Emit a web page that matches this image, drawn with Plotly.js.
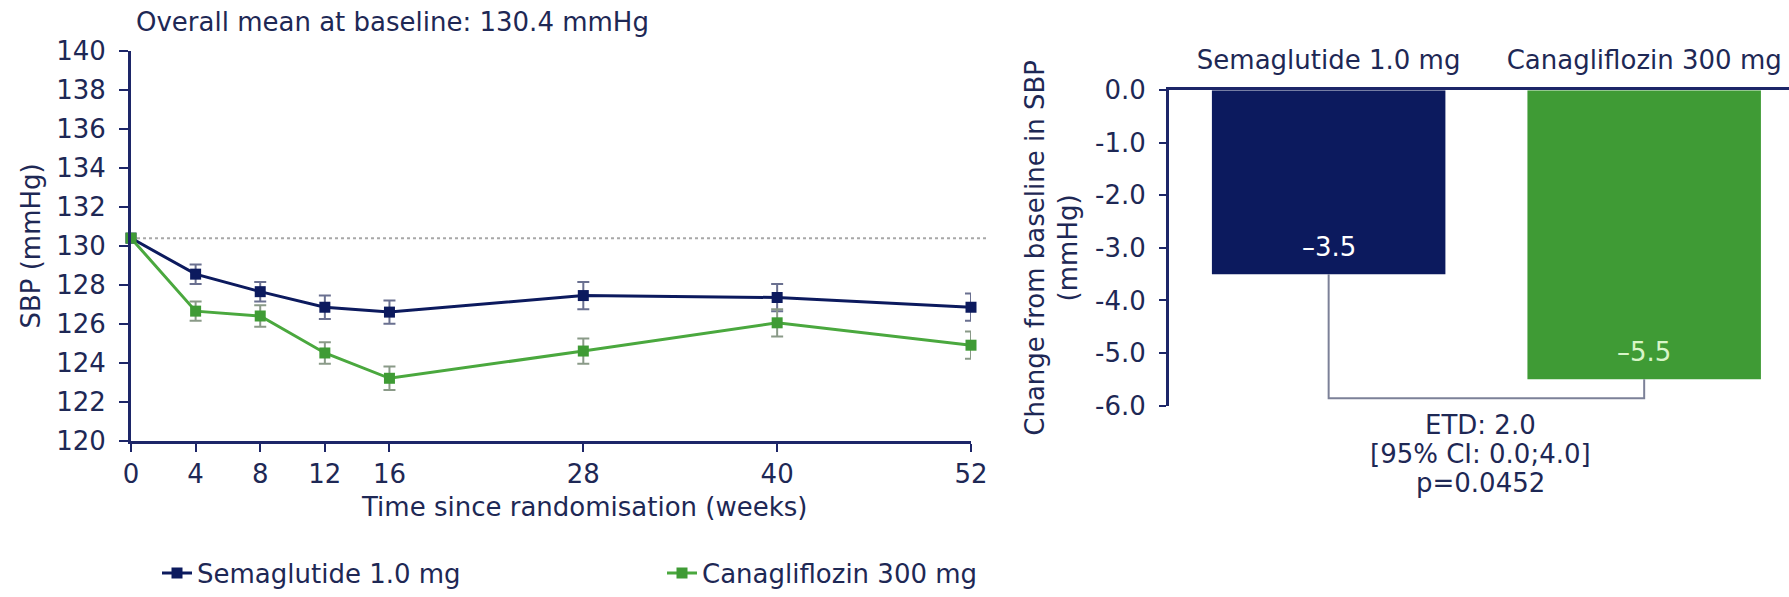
<!DOCTYPE html>
<html>
<head>
<meta charset="utf-8">
<script src="https://cdn.plot.ly/plotly-3.0.1.min.js"></script>
<style>html,body{margin:0;padding:0;background:#fff;}#chart{width:1789px;height:597px;}</style>
</head>
<body>
<div id="chart"></div>
<script>
// ---- Data ----
const weeks = [0, 4, 8, 12, 16, 28, 40, 52];
const weekTickLabels = ['0', '4', '8', '12', '16', '28', '40', '52'];
const semaSBP = [130.4, 128.55, 127.65, 126.85, 126.6, 127.45, 127.35, 126.85];
const semaErr = [0, 0.5, 0.5, 0.6, 0.6, 0.7, 0.7, 0.7];
const canaSBP = [130.4, 126.65, 126.4, 124.5, 123.2, 124.6, 126.05, 124.9];
const canaErr = [0, 0.5, 0.55, 0.55, 0.6, 0.65, 0.7, 0.7];
const baselineMean = 130.4;
const sbpTicks = [120, 122, 124, 126, 128, 130, 132, 134, 136, 138, 140];

const treatments = ['Semaglutide 1.0 mg', 'Canagliflozin 300 mg'];
const changeFromBaseline = [-3.5, -5.5];
const changeTicks = [0, -1, -2, -3, -4, -5, -6];
const changeTickLabels = ['0.0', '-1.0', '-2.0', '-3.0', '-4.0', '-5.0', '-6.0'];
const etdLevel = -5.86;
const etdText = ['ETD: 2.0', '[95% CI: 0.0;4.0]', 'p=0.0452'];

// ---- Style ----
const NAVY = '#0c1a5e';
const GREEN = '#3f9b35';
const AXIS = '#1d2668';
const TEXT = '#1e2855';
const FONT = 'DejaVu Sans, Verdana, sans-serif';
const FS = 26;

const barX = treatments.map((_, i) => i);

const traces = [
  {
    x: weeks, y: semaSBP, name: treatments[0], type: 'scatter', mode: 'lines+markers',
    line: {color: NAVY, width: 3}, marker: {symbol: 'square', size: 11, color: NAVY},
    error_y: {type: 'data', array: semaErr, color: '#6a7090', thickness: 2, width: 6},
    cliponaxis: false, xaxis: 'x', yaxis: 'y'
  },
  {
    x: weeks, y: canaSBP, name: treatments[1], type: 'scatter', mode: 'lines+markers',
    line: {color: '#4aa83e', width: 3}, marker: {symbol: 'square', size: 11, color: GREEN},
    error_y: {type: 'data', array: canaErr, color: '#8a9a88', thickness: 2, width: 6},
    cliponaxis: false, xaxis: 'x', yaxis: 'y'
  },
  {
    x: barX, y: changeFromBaseline, type: 'bar', width: 0.74,
    marker: {color: [NAVY, GREEN], line: {width: 0}},
    showlegend: false, hoverinfo: 'skip', xaxis: 'x2', yaxis: 'y2'
  },
  {
    x: [barX[0], barX[0], barX[1], barX[1]],
    y: [changeFromBaseline[0], etdLevel, etdLevel, changeFromBaseline[1]],
    type: 'scatter', mode: 'lines', line: {color: '#7c8198', width: 2},
    showlegend: false, hoverinfo: 'skip', cliponaxis: false, xaxis: 'x2', yaxis: 'y2'
  }
];

const W = 1789, H = 597;
const tf = {family: FONT, size: FS, color: TEXT};
const layout = {
  width: W, height: H,
  margin: {l: 0, r: 0, t: 0, b: 0},
  paper_bgcolor: '#fff', plot_bgcolor: 'rgba(0,0,0,0)',
  font: tf,
  showlegend: true,
  legend: {
    orientation: 'h', x: 157 / W, y: 1 - 589 / H, xanchor: 'left', yanchor: 'middle',
    entrywidth: 460, entrywidthmode: 'pixels',
    font: tf, bgcolor: 'rgba(0,0,0,0)'
  },
  xaxis: {
    domain: [131 / W, 971 / W], range: [0, 52], anchor: 'y',
    tickvals: weeks, ticktext: weekTickLabels, ticks: 'outside', ticklen: 8, tickwidth: 2, tickcolor: AXIS,
    ticklabelstandoff: 0,
    showline: true, linecolor: AXIS, linewidth: 3, showgrid: false, zeroline: false,
    tickfont: tf
  },
  yaxis: {
    domain: [1 - 452.7 / H, 1 - 52.7 / H], range: [120, 140], anchor: 'x',
    tickvals: sbpTicks, ticks: 'outside', ticklen: 9, tickwidth: 2, tickcolor: AXIS,
    ticklabelstandoff: 8,
    showline: true, linecolor: AXIS, linewidth: 3, showgrid: false, zeroline: false,
    tickfont: tf,
    title: {text: 'SBP (mmHg)', font: tf, standoff: 9}
  },
  xaxis2: {
    domain: [1169 / W, 1], range: [-0.506, 1.459], anchor: 'y2', side: 'top',
    tickvals: barX, ticktext: treatments, ticks: '', ticklabelstandoff: 8,
    showline: true, linecolor: AXIS, linewidth: 3, showgrid: false, zeroline: false,
    tickfont: tf
  },
  yaxis2: {
    domain: [1 - 416.7 / H, 1 - 92.7 / H], range: [-6, 0], anchor: 'x2',
    tickvals: changeTicks, ticktext: changeTickLabels, ticks: 'outside', ticklen: 7, tickwidth: 2, tickcolor: AXIS,
    ticklabelstandoff: 8,
    showline: true, linecolor: AXIS, linewidth: 3, showgrid: false, zeroline: false,
    tickfont: tf,
    title: {text: 'Change from baseline in SBP<br>(mmHg)', font: tf, standoff: 10}
  },
  shapes: [
    {type: 'line', xref: 'paper', yref: 'y', x0: 131 / W, x1: 988 / W, y0: baselineMean, y1: baselineMean,
     line: {color: '#a8a8a8', width: 2, dash: 'dot'}, layer: 'below'}
  ],
  annotations: [
    {text: 'Overall mean at baseline: ' + baselineMean.toFixed(1) + ' mmHg', xref: 'paper', yref: 'paper',
     x: 134 / W, y: 1 - 23 / H, xanchor: 'left', yanchor: 'middle', showarrow: false, font: tf},
    {text: 'Time since randomisation (weeks)', xref: 'paper', yref: 'paper',
     x: 583.5 / W, y: 1 - 521 / H, xanchor: 'center', yanchor: 'middle', showarrow: false, font: tf}
  ].concat(etdText.map((t, i) => ({
    text: t, xref: 'x2', yref: 'paper', x: (barX[0] + barX[1]) / 2, xshift: -6,
    y: 1 - 436.7 / H, yshift: -29 * i, xanchor: 'center', yanchor: 'middle', showarrow: false, font: tf
  }))).concat(changeFromBaseline.map((v, i) => ({
    text: '\u2013' + Math.abs(v).toFixed(1), xref: 'x2', yref: 'y2', x: barX[i], y: v, yshift: 27,
    xanchor: 'center', yanchor: 'middle', showarrow: false,
    font: {family: FONT, size: FS, color: i === 0 ? '#ffffff' : '#d8f5c8'}
  })))
};

Plotly.newPlot('chart', traces, layout, {displayModeBar: false, staticPlot: true});
</script>
</body>
</html>
